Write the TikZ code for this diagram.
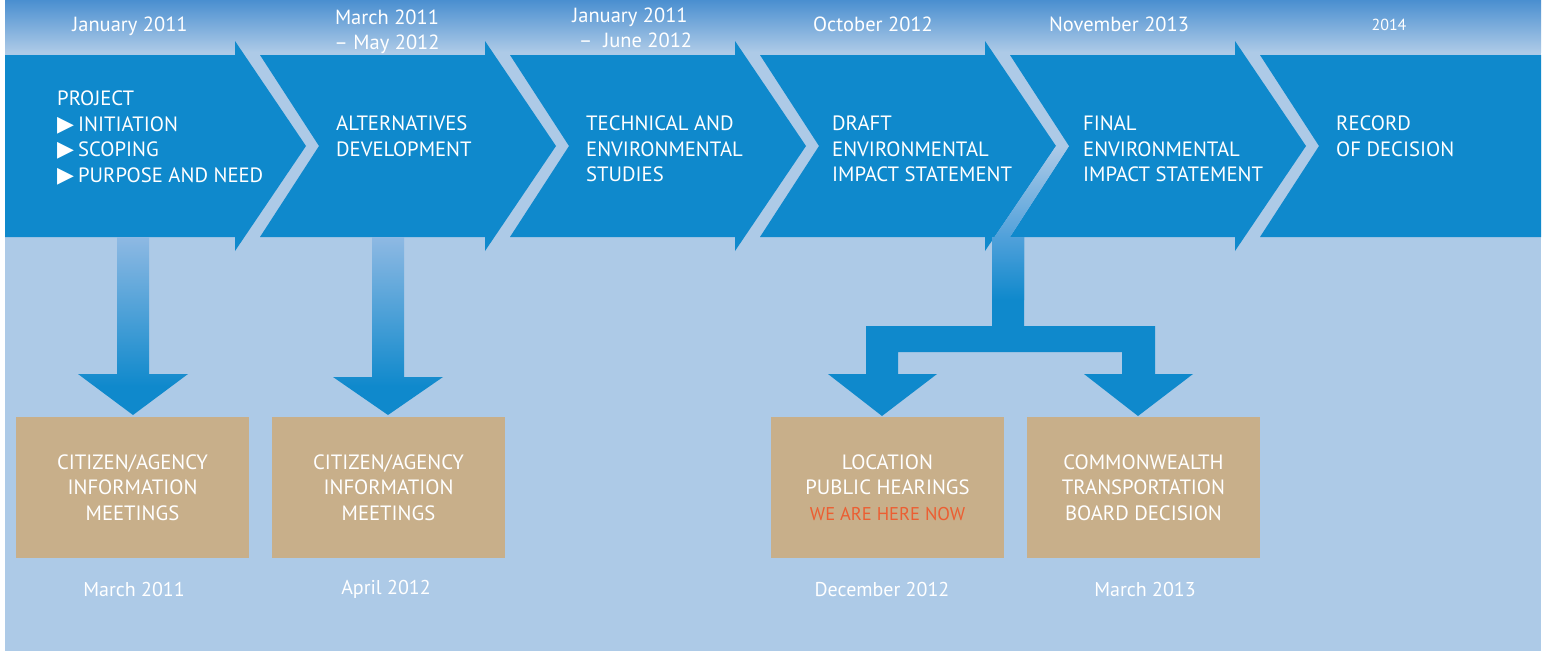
\documentclass[tikz,border=0pt]{standalone}
\usepackage{fontspec}
\setmainfont{PT Sans}
\newfontfamily\symfont{DejaVu Sans}
\definecolor{arrowblue}{HTML}{0F89CC}
\definecolor{bglight}{HTML}{ADCAE7}
\definecolor{topblue}{HTML}{4A8FD0}
\definecolor{lightarrow}{HTML}{8EB9E3}
\definecolor{midblue}{HTML}{4FA0DA}
\definecolor{tanc}{HTML}{C8AF8A}
\definecolor{herered}{HTML}{EC5E32}
\pgfdeclareverticalshading{downshade}{100bp}{color(0bp)=(arrowblue); color(33bp)=(arrowblue); color(75bp)=(lightarrow); color(100bp)=(lightarrow)}
\pgfdeclareverticalshading{stemshade}{100bp}{color(0bp)=(arrowblue); color(25bp)=(arrowblue); color(45bp)=(midblue); color(75bp)=(bglight); color(100bp)=(bglight)}
\tikzset{
  steptext/.style={anchor=north west, inner sep=0pt, align=left, text=white, font=\fontsize{20.7}{25.5}\selectfont},
  datetext/.style={inner sep=0pt, align=center, text=white, font=\fontsize{20.5}{24.5}\selectfont},
  bottomdate/.style={inner sep=0pt, anchor=base, text=white, font=\fontsize{20}{24}\selectfont},
  tanbox/.style={fill=tanc, minimum width=233pt, minimum height=141pt, inner sep=0pt, align=center, text=white, font=\fontsize{20.7}{25.5}\selectfont},
  bigarrow/.style={fill=arrowblue},
}
\newcommand{\tri}{{\symfont\fontsize{22}{20}\selectfont ▶}\hspace{4pt}}
\begin{document}
\begin{tikzpicture}[x=1pt,y=-1pt]
\useasboundingbox (0,0) rectangle (1543,651);
% background
\fill[bglight] (5,0) rectangle (1541,651);
\shade[top color=topblue, bottom color=bglight] (5,0) rectangle (1541,52);
% big process arrows
\fill[bigarrow] (5,55) -- (235,55) -- (235,41) -- (306,146) -- (235,251) -- (235,237) -- (5,237) -- cycle;
\foreach \l/\h in {260/485, 510/735, 760/985, 1010/1235}{
  \fill[bigarrow] (\l,55) -- (\h,55) -- (\h,41) -- ({\h+71},146) -- (\h,251) -- (\h,237) -- (\l,237) -- ({\l+59},146) -- cycle;
}
\fill[bigarrow] (1260,55) -- (1541,55) -- (1541,237) -- (1260,237) -- (1319,146) -- cycle;
% down arrows
\shade[shading=downshade] (117,237) -- (149,237) -- (149,374) -- (188,374) -- (133,415) -- (78,374) -- (117,374) -- cycle;
\shade[shading=downshade] (372,237) -- (404,237) -- (404,377) -- (443,377) -- (388,415) -- (333,377) -- (372,377) -- cycle;
% branching arrow
\fill[arrowblue] (992,237) -- (992,326) -- (866,326) -- (866,374) -- (828,374) -- (882,416) -- (937,374) -- (898,374) -- (898,352) -- (1122,352) -- (1122,374) -- (1084,374) -- (1138,416) -- (1193,374) -- (1155,374) -- (1155,326) -- (1024,326) -- (1024,237) -- cycle;
\shade[shading=stemshade] (1056,146) -- (1069,146) -- (1010,237) -- (1024,237) -- (1024,300) -- (992,300) -- (992,237) -- (994.5,237) -- cycle;
% step texts
\node[steptext] (s1) at (57,91) {PROJECT\\\tri INITIATION\\\tri SCOPING\\\tri PURPOSE AND NEED};
\node[steptext] (s2) at (336,116) {ALTERNATIVES\\DEVELOPMENT};
\node[steptext] (s3) at (586,116) {TECHNICAL AND\\ENVIRONMENTAL\\STUDIES};
\node[steptext] (s4) at (832,116) {DRAFT\\ENVIRONMENTAL\\IMPACT STATEMENT};
\node[steptext] (s5) at (1083,116) {FINAL\\ENVIRONMENTAL\\IMPACT STATEMENT};
\node[steptext] (s6) at (1336,116) {RECORD\\OF DECISION};
% top dates
\node[datetext, anchor=base] (d1) at (130,31.7) {January 2011};
\node[datetext, anchor=north] (d2) at (387,10) {March 2011\\– May 2012};
\node[datetext, anchor=north] (d3) at (630,8) {January 2011\\\ \ – \ June 2012};
\node[datetext, anchor=base] (d4) at (873,31.7) {October 2012};
\node[datetext, anchor=base] (d5) at (1119,31.7) {November 2013};
\node[datetext, anchor=base, font=\fontsize{16}{20}\selectfont] (d6) at (1389,30) {2014};
% tan boxes
\node[tanbox] (b1) at (132.5,487.5) {CITIZEN/AGENCY\\INFORMATION\\MEETINGS};
\node[tanbox] (b2) at (388.5,487.5) {CITIZEN/AGENCY\\INFORMATION\\MEETINGS};
\node[tanbox] (b3) at (887.5,487.5) {LOCATION\\PUBLIC HEARINGS\\{\color{herered}\fontsize{18.5}{25.5}\selectfont WE ARE HERE NOW}};
\node[tanbox] (b4) at (1143.5,487.5) {COMMONWEALTH\\TRANSPORTATION\\BOARD DECISION};
% bottom dates
\node[bottomdate] (e1) at (134,596.5) {March 2011};
\node[bottomdate] (e2) at (386,594) {April 2012};
\node[bottomdate] (e3) at (882,596.5) {December 2012};
\node[bottomdate] (e4) at (1145,596.5) {March 2013};
\end{tikzpicture}
\end{document}
